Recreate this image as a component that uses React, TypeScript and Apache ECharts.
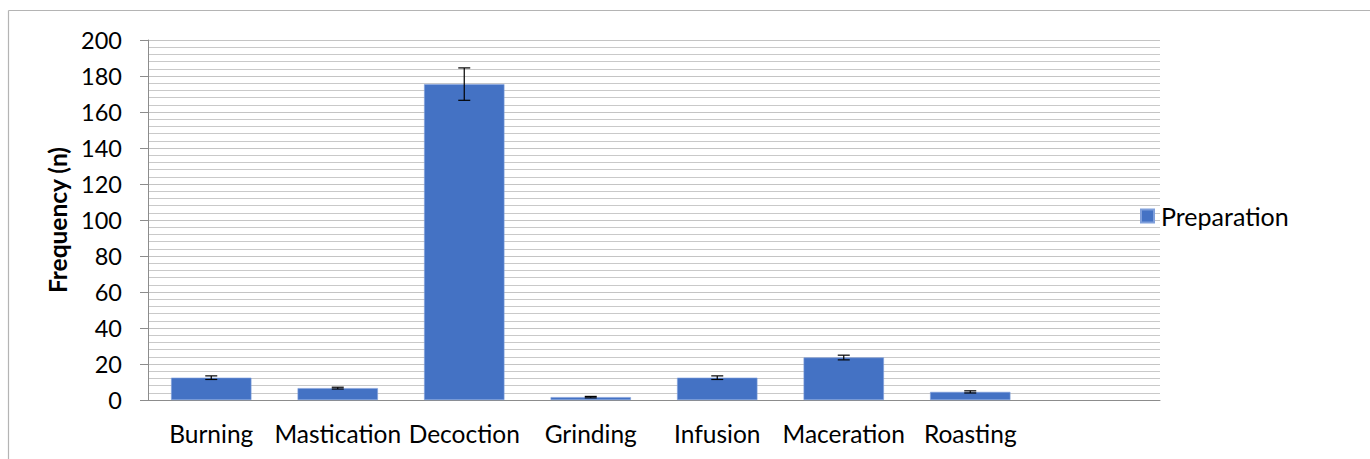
import React, { useEffect, useRef } from "react";
import * as echarts from "echarts";

const categories = ["Burning", "Mastication", "Decoction", "Grinding", "Infusion", "Maceration", "Roasting", ""];
const values = [12.4, 6.6, 175.5, 1.6, 12.4, 23.6, 4.5];
const errors = [1.0, 0.5, 9.0, 0.4, 1.0, 1.3, 0.6];
const yTicks = [0, 20, 40, 60, 80, 100, 120, 140, 160, 180, 200];
const seriesName = "Preparation";
const axisTitle = "Frequency (n)";

const FONT = "Lato";

export default function App() {
  const ref = useRef<HTMLDivElement>(null);
  useEffect(() => {
    document.body.style.margin = "0";
    document.body.style.overflow = "hidden";
    const chart = echarts.init(ref.current!, null, { renderer: "svg" });
    const errData = values.map((v, i) => [i, v - errors[i], v + errors[i]]);
    chart.setOption({
      animation: false,
      backgroundColor: "#ffffff",
      textStyle: { fontFamily: FONT },
      grid: { left: 148, top: 40, right: 210, bottom: 59, containLabel: false },
      legend: {
        data: [{ name: seriesName, icon: "rect" }],
        left: 1140,
        top: 203,
        orient: "vertical",
        itemWidth: 13,
        itemHeight: 13,
        itemGap: 0,
        padding: 0,
        textStyle: { fontFamily: FONT, fontSize: 25, lineHeight: 26, color: "#000", padding: [0, 0, 0, 2] },
        selectedMode: false,
      },
      xAxis: {
        type: "category",
        data: categories,
        axisLine: { show: true, lineStyle: { color: "#8c8c8c", width: 1 } },
        axisTick: { show: false },
        axisLabel: { color: "#000", fontFamily: FONT, fontSize: 24.5, margin: 21, interval: 0 },
        splitLine: { show: false },
      },
      yAxis: {
        type: "value",
        min: yTicks[0],
        max: yTicks[yTicks.length - 1],
        interval: 20,
        name: axisTitle,
        nameLocation: "middle",
        nameGap: 77,
        nameTextStyle: { fontFamily: FONT, fontSize: 24.5, fontWeight: "bold", color: "#000" },
        axisLine: { show: true, lineStyle: { color: "#8c8c8c", width: 1 } },
        axisTick: { show: true, inside: false, length: 8, lineStyle: { color: "#8c8c8c" } },
        axisLabel: { color: "#000", fontFamily: FONT, fontSize: 23.5, margin: 26 },
        splitLine: { show: true, lineStyle: { color: "#c4c4c4", width: 1 } },
        minorTick: { show: false, splitNumber: 5 },
        minorSplitLine: { show: true, lineStyle: { color: "#c9c9c9", width: 1 } },
      },
      series: [
        {
          name: seriesName,
          type: "bar",
          data: values,
          barWidth: "63.5%",
          itemStyle: { color: "#4472C4", borderColor: "#7f9fdb", borderWidth: 0.6 },
        },
        {
          name: "err",
          type: "custom",
          data: errData,
          z: 10,
          renderItem: (params: any, api: any) => {
            const idx = api.value(0);
            const lo = api.coord([idx, api.value(1)]);
            const hi = api.coord([idx, api.value(2)]);
            const w = 6;
            const st = { stroke: "#000000", lineWidth: 1.2 };
            return {
              type: "group",
              children: [
                { type: "line", shape: { x1: hi[0], y1: hi[1], x2: lo[0], y2: lo[1] }, style: st },
                { type: "line", shape: { x1: hi[0] - w, y1: hi[1], x2: hi[0] + w, y2: hi[1] }, style: st },
                { type: "line", shape: { x1: lo[0] - w, y1: lo[1], x2: lo[0] + w, y2: lo[1] }, style: st },
              ],
            };
          },
        },
      ],
      graphic: [
        { type: "line", shape: { x1: 8.5, y1: 10.5, x2: 1370, y2: 10.5 }, style: { stroke: "#b4b4b4", lineWidth: 1.2 } },
        { type: "line", shape: { x1: 8.5, y1: 10.5, x2: 8.5, y2: 459 }, style: { stroke: "#b4b4b4", lineWidth: 1.2 } },
      ],
    });
    return () => chart.dispose();
  }, []);
  return <div ref={ref} style={{ width: 1370, height: 459 }} />;
}
